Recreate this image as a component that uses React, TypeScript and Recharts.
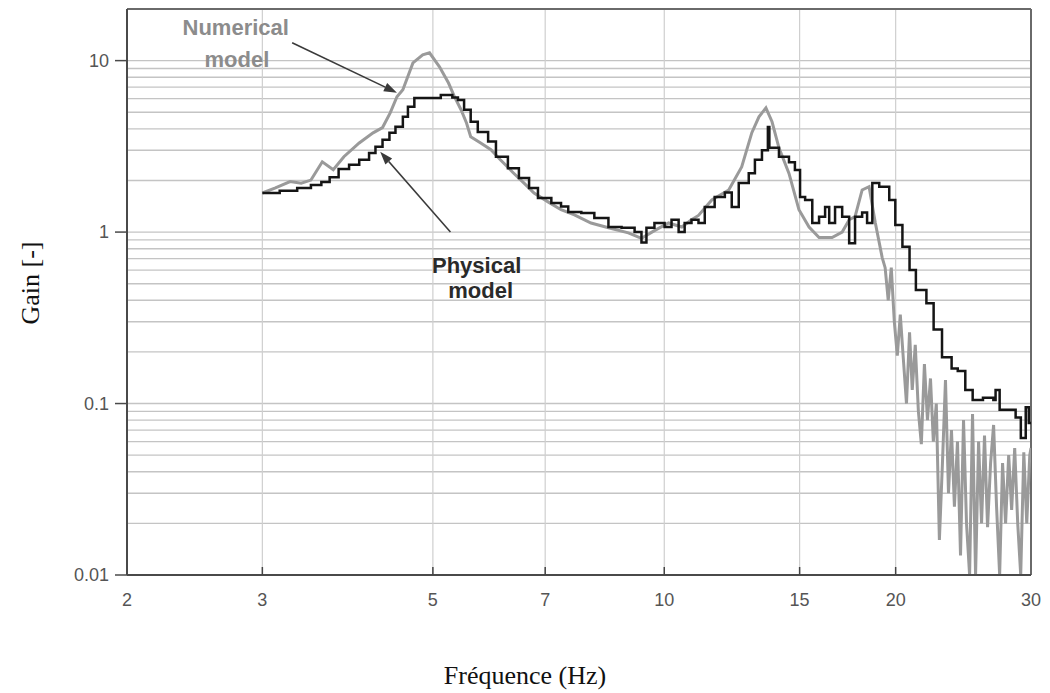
import React from 'react';
import { LineChart, Line, XAxis, YAxis, ReferenceLine, ReferenceDot } from 'recharts';

// ---- data ----
const physicalFreq = [
  3.0, 3.16, 3.33, 3.47, 3.58, 3.67, 3.77, 3.89, 4.01, 4.13, 4.21, 4.3, 4.39, 4.47, 4.57, 4.64,
  4.73, 5.12, 5.3, 5.39, 5.49, 5.6, 5.72, 5.9, 6.04, 6.26, 6.47, 6.67, 6.85, 7.13, 7.34, 7.5,
  7.8, 8.11, 8.46, 8.8, 9.15, 9.34, 9.48, 9.71, 10.01, 10.22, 10.44, 10.63, 10.85, 11.08, 11.29,
  11.63, 11.99, 12.24, 12.5, 12.88, 13.12, 13.4, 13.64, 13.7, 14.1, 14.53, 14.79, 15.02, 15.25,
  15.58, 15.9, 16.19, 16.39, 16.68, 17.04, 17.4, 17.71, 18.09, 18.36, 18.65, 19.04, 19.62, 19.98,
  20.41, 20.85, 21.25, 21.93, 22.41, 22.98, 23.65, 24.09, 24.64, 25.19, 25.98, 26.8, 26.98, 27.31,
  28.14, 28.65, 29.1, 29.53, 29.8, 30.0,
];
const physicalGain = [
  1.69, 1.74, 1.81, 1.88, 1.96, 2.09, 2.33, 2.47, 2.64, 2.89, 3.14, 3.45, 3.79, 4.11, 4.7, 5.38,
  6.05, 6.3, 6.1, 5.9, 5.17, 4.4, 3.84, 3.37, 2.75, 2.36, 2.07, 1.81, 1.58, 1.48, 1.41, 1.31,
  1.29, 1.21, 1.07, 1.06, 1.0, 0.87, 1.06, 1.13, 1.07, 1.18, 1.0, 1.13, 1.18, 1.13, 1.4,
  1.6, 1.7, 1.4, 1.93, 2.2, 2.64, 3.0, 4.1, 3.1, 2.75, 2.55, 2.3, 1.6, 1.54,
  1.13, 1.23, 1.4, 1.13, 1.4, 1.23, 0.86, 1.23, 1.3, 1.13, 1.93, 1.84, 1.54, 1.1,
  0.82, 0.6, 0.46, 0.385, 0.27, 0.186, 0.16, 0.155, 0.12, 0.105, 0.108, 0.105, 0.12, 0.092,
  0.092, 0.083, 0.063, 0.095, 0.077, 0.077,
];

const numericalFreq = [
  3.0, 3.12, 3.26, 3.37, 3.47, 3.59, 3.71, 3.83, 4.01, 4.18, 4.3, 4.4, 4.49, 4.57, 4.71, 4.85,
  4.95, 5.1, 5.24, 5.33, 5.44, 5.53, 5.6, 5.77, 5.95, 6.12, 6.36, 6.57, 6.77, 7.06, 7.34, 7.64,
  8.03, 8.46, 8.98, 9.34, 9.71, 10.13, 10.54, 10.85, 11.08, 11.53, 12.13, 12.61, 13.0, 13.28,
  13.56, 13.81, 14.1, 14.53, 14.97, 15.43, 15.9, 16.53, 17.04, 17.4, 17.71, 18.09, 18.47, 18.82,
  19.21, 19.38, 19.56, 19.74, 19.92, 20.1, 20.28, 20.47, 20.66, 20.85, 21.02, 21.21, 21.41, 21.6,
  21.8, 22.0, 22.2, 22.39, 22.59, 22.8, 23.01, 23.22, 23.43, 23.64, 23.85, 24.07, 24.29, 24.51,
  24.73, 24.96, 25.18, 25.41, 25.64, 25.87, 26.1, 26.34, 26.58, 26.82, 27.06, 27.31, 27.55,
  27.8, 28.06, 28.31, 28.57, 28.83, 29.09, 29.36, 29.62, 29.89, 30.0,
];
const numericalGain = [
  1.69, 1.81, 1.97, 1.93, 2.01, 2.57, 2.31, 2.75, 3.31, 3.79, 4.07, 4.96, 6.16, 6.77, 9.7, 10.8,
  11.1, 9.2, 7.4, 6.2, 5.17, 4.33, 3.6, 3.31, 3.02, 2.64, 2.22, 1.93, 1.69, 1.5, 1.35, 1.26,
  1.13, 1.06, 0.99, 0.92, 1.02, 1.13, 1.07, 1.18, 1.25, 1.54, 1.76, 2.4, 3.8, 4.7,
  5.3, 4.4, 3.1, 2.2, 1.35, 1.07, 0.93, 0.93, 1.0, 1.18, 1.23, 1.76, 1.84, 1.13,
  0.71, 0.62, 0.4, 0.62, 0.3, 0.19, 0.33, 0.18, 0.1, 0.26, 0.12, 0.22, 0.09, 0.058,
  0.17, 0.08, 0.14, 0.06, 0.1, 0.016, 0.045, 0.137, 0.03, 0.07, 0.025, 0.06, 0.013, 0.08,
  0.02, 0.01, 0.087, 0.01, 0.06, 0.02, 0.065, 0.019, 0.045, 0.075, 0.025, 0.01, 0.045,
  0.02, 0.05, 0.024, 0.055, 0.02, 0.01, 0.052, 0.02, 0.05, 0.055,
];

const xTicks = [2, 3, 5, 7, 10, 15, 20, 30];
const yTicks = [0.01, 0.1, 1, 10];
const xGridValues = [3, 5, 7, 10, 15, 20];
const yGridValues = [
  0.02, 0.03, 0.04, 0.05, 0.06, 0.07, 0.08, 0.09,
  0.1, 0.2, 0.3, 0.4, 0.5, 0.6, 0.7, 0.8, 0.9,
  1, 2, 3, 4, 5, 6, 7, 8, 9, 10,
];
const xDomain = [2, 30];
const yDomain = [0.01, 20];

// annotation anchors (data coordinates)
const numericalArrow = [{ x: 3.28, y: 12.7 }, { x: 4.49, y: 6.5 }];
const physicalArrow = [{ x: 5.27, y: 1.0 }, { x: 4.27, y: 2.94 }];
const numericalLabel = [
  { text: 'Numerical', x: 2.77, y: 14.2 },
  { text: 'model', x: 2.78, y: 9.22 },
];
const physicalLabel = [
  { text: 'Physical', x: 5.7, y: 0.575 },
  { text: 'model', x: 5.77, y: 0.411 },
];

const physicalData = physicalFreq.map((f, i) => ({ f, g: physicalGain[i] }));
const numericalData = numericalFreq.map((f, i) => ({ f, g: numericalGain[i] }));

const SANS = "'Liberation Sans', Arial, Helvetica, sans-serif";
const SERIF = "'Liberation Serif', 'Times New Roman', Times, serif";

const XTick = (props: any) => {
  const { x, y, payload } = props;
  const v = payload.value;
  return (
    <g>
      {v !== xDomain[0] && v !== xDomain[1] && (
        <line x1={x} y1={y} x2={x} y2={y - 8} stroke="#444" strokeWidth={1.5} />
      )}
      <text x={x} y={y + 31} textAnchor="middle" fontSize={18} fill="#555" fontFamily={SANS}>
        {v}
      </text>
    </g>
  );
};

const Arrow = (props: any) => {
  const { x1, y1, x2, y2 } = props;
  if (![x1, y1, x2, y2].every((n) => typeof n === 'number' && isFinite(n))) return null;
  const a = Math.atan2(y2 - y1, x2 - x1);
  const L = 13;
  const W = 4.5;
  const bx = x2 - L * Math.cos(a);
  const by = y2 - L * Math.sin(a);
  const p1 = `${bx + W * Math.sin(a)},${by - W * Math.cos(a)}`;
  const p2 = `${bx - W * Math.sin(a)},${by + W * Math.cos(a)}`;
  return (
    <g>
      <line x1={x1} y1={y1} x2={bx} y2={by} stroke="#3a3a3a" strokeWidth={1.6} />
      <polygon points={`${x2},${y2} ${p1} ${p2}`} fill="#3a3a3a" />
    </g>
  );
};

const makeLabel = (text: string, color: string) => (p: any) => {
  const vb = p.viewBox || {};
  return (
    <text
      x={vb.x}
      y={vb.y}
      textAnchor="middle"
      fontSize={22}
      fontWeight="bold"
      fill={color}
      fontFamily={SANS}
    >
      {text}
    </text>
  );
};

export default function App() {
  return (
    <div style={{ width: 1050, height: 693, background: '#fff' }}>
      <style>{'body{margin:0;background:#fff}'}</style>
      <LineChart
        width={1050}
        height={693}
        margin={{ top: 9, right: 19, bottom: 78, left: 0 }}
      >
        <XAxis
          dataKey="f"
          type="number"
          scale="log"
          domain={xDomain}
          ticks={xTicks}
          allowDataOverflow
          height={40}
          tickSize={0}
          tickMargin={0}
          tickLine={false}
          axisLine={{ stroke: '#4a4a4a', strokeWidth: 2 }}
          tick={<XTick />}
          interval={0}
          label={() => (
            <text x={525} y={684} textAnchor="middle" fontSize={26} fill="#111" fontFamily={SERIF}>
              Fréquence (Hz)
            </text>
          )}
        />
        <YAxis
          dataKey="g"
          type="number"
          scale="log"
          domain={yDomain}
          ticks={yTicks}
          allowDataOverflow
          width={127}
          tickSize={12}
          tickMargin={6}
          tickLine={{ stroke: '#4a4a4a', strokeWidth: 1.5 }}
          axisLine={{ stroke: '#4a4a4a', strokeWidth: 2 }}
          tick={{ fontSize: 18, fill: '#555', fontFamily: SANS }}
          interval={0}
          label={() => (
            <text
              x={30}
              y={283}
              transform="rotate(-90, 30, 283)"
              textAnchor="middle"
              dominantBaseline="central"
              fontSize={26}
              fill="#111"
              fontFamily={SERIF}
            >
              Gain [-]
            </text>
          )}
        />
        {yGridValues.map((v) => (
          <ReferenceLine key={'hy' + v} y={v} stroke="#c4c4c4" strokeWidth={1.4} />
        ))}
        {xGridValues.map((v) => (
          <ReferenceLine key={'vx' + v} x={v} stroke="#cfcfcf" strokeWidth={1.2} />
        ))}
        <ReferenceLine y={yDomain[1]} stroke="#6a6a6a" strokeWidth={2} />
        <ReferenceLine x={xDomain[1]} stroke="#6a6a6a" strokeWidth={2} />
        <Line
          data={numericalData}
          dataKey="g"
          type="linear"
          stroke="#9a9a9a"
          strokeWidth={3}
          dot={false}
          isAnimationActive={false}
        />
        <Line
          data={physicalData}
          dataKey="g"
          type="stepAfter"
          stroke="#151515"
          strokeWidth={2.5}
          dot={false}
          isAnimationActive={false}
        />
        <ReferenceLine segment={numericalArrow} shape={<Arrow />} />
        <ReferenceLine segment={physicalArrow} shape={<Arrow />} />
        {numericalLabel.map((l) => (
          <ReferenceDot
            key={'n' + l.text}
            x={l.x}
            y={l.y}
            r={0}
            stroke="none"
            fill="none"
            label={makeLabel(l.text, '#8c8c8c')}
          />
        ))}
        {physicalLabel.map((l) => (
          <ReferenceDot
            key={'p' + l.text}
            x={l.x}
            y={l.y}
            r={0}
            stroke="none"
            fill="none"
            label={makeLabel(l.text, '#2a2a2a')}
          />
        ))}
      </LineChart>
    </div>
  );
}
